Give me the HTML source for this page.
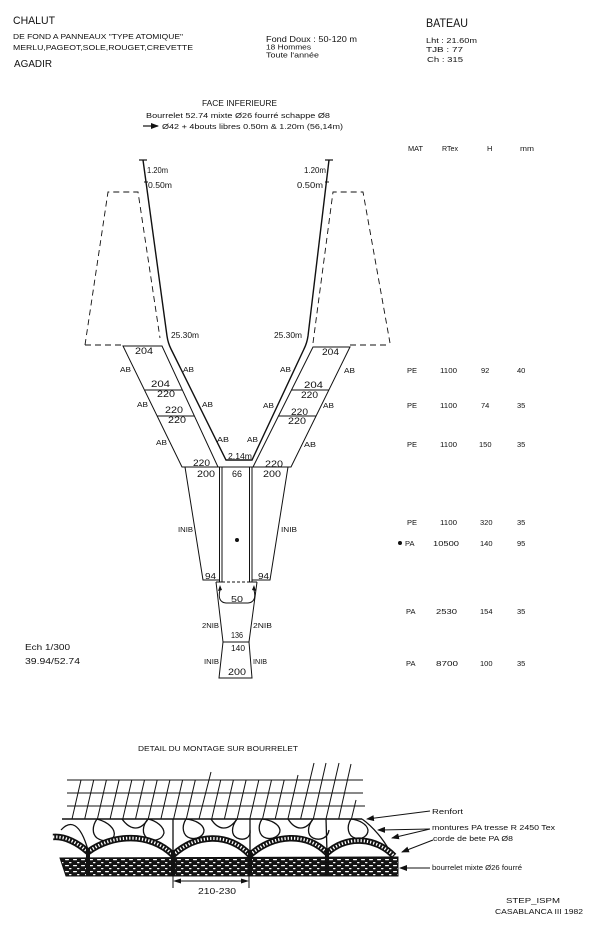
<!DOCTYPE html>
<html><head><meta charset="utf-8"><style>
html,body{margin:0;padding:0;background:#fff;}
svg{display:block;}
text{font-family:"Liberation Sans",sans-serif;fill:#111;}
</style></head><body>
<svg width="600" height="939" viewBox="0 0 600 939" xmlns="http://www.w3.org/2000/svg">
<defs>
<marker id="ah" markerWidth="8" markerHeight="6" refX="7" refY="3" orient="auto" markerUnits="userSpaceOnUse">
<path d="M0,0 L8,3 L0,6 Z" fill="#111"/></marker>
<pattern id="bour" width="8" height="6" patternUnits="userSpaceOnUse">
<rect width="8" height="6" fill="#141414"/><rect x="1" y="1" width="4" height="1.2" rx="0.6" fill="#fff"/><rect x="5" y="4" width="2.5" height="1.2" rx="0.6" fill="#fff"/></pattern>
</defs>

<!-- Header -->
<text x="13" y="24" font-size="11" textLength="42" lengthAdjust="spacingAndGlyphs">CHALUT</text>
<text x="13" y="39" font-size="7.5" textLength="170" lengthAdjust="spacingAndGlyphs">DE FOND A PANNEAUX "TYPE ATOMIQUE"</text>
<text x="13" y="50" font-size="7.5" textLength="180" lengthAdjust="spacingAndGlyphs">MERLU,PAGEOT,SOLE,ROUGET,CREVETTE</text>
<text x="14" y="67" font-size="10.5" textLength="38" lengthAdjust="spacingAndGlyphs">AGADIR</text>
<text x="266" y="42" font-size="8.5" textLength="91" lengthAdjust="spacingAndGlyphs">Fond Doux : 50-120 m</text>
<text x="266" y="49.5" font-size="7.5" textLength="45" lengthAdjust="spacingAndGlyphs">18 Hommes</text>
<text x="266" y="57.5" font-size="7.5" textLength="53" lengthAdjust="spacingAndGlyphs">Toute l'année</text>
<text x="426" y="27" font-size="11.5" textLength="42" lengthAdjust="spacingAndGlyphs">BATEAU</text>
<text x="426" y="43" font-size="7.5" textLength="51" lengthAdjust="spacingAndGlyphs">Lht : 21.60m</text>
<text x="426" y="52" font-size="7.5" textLength="37" lengthAdjust="spacingAndGlyphs">TJB : 77</text>
<text x="427" y="62" font-size="7.5" textLength="36" lengthAdjust="spacingAndGlyphs">Ch : 315</text>

<text x="202" y="106" font-size="8" textLength="75" lengthAdjust="spacingAndGlyphs">FACE INFERIEURE</text>
<text x="146" y="118" font-size="7.5" textLength="184" lengthAdjust="spacingAndGlyphs">Bourrelet 52.74 mixte Ø26 fourré schappe Ø8</text>
<line x1="143" y1="126" x2="158" y2="126" stroke="#111" stroke-width="1.2" marker-end="url(#ah)"/>
<text x="162" y="129" font-size="7.5" textLength="181" lengthAdjust="spacingAndGlyphs">Ø42 + 4bouts libres 0.50m &amp; 1.20m (56,14m)</text>

<!-- Table -->
<g font-size="7.5">
<text x="408" y="151" textLength="15" lengthAdjust="spacingAndGlyphs">MAT</text>
<text x="442" y="151" textLength="16" lengthAdjust="spacingAndGlyphs">RTex</text>
<text x="487" y="151">H</text>
<text x="520" y="151" textLength="14" lengthAdjust="spacingAndGlyphs">mm</text>

<text x="407" y="373">PE</text><text x="440" y="373" textLength="17" lengthAdjust="spacingAndGlyphs">1100</text><text x="481" y="373">92</text><text x="517" y="373">40</text>
<text x="407" y="408">PE</text><text x="440" y="408" textLength="17" lengthAdjust="spacingAndGlyphs">1100</text><text x="481" y="408">74</text><text x="517" y="408">35</text>
<text x="407" y="447">PE</text><text x="440" y="447" textLength="17" lengthAdjust="spacingAndGlyphs">1100</text><text x="479" y="447">150</text><text x="517" y="447">35</text>
<text x="407" y="525">PE</text><text x="440" y="525" textLength="17" lengthAdjust="spacingAndGlyphs">1100</text><text x="480" y="525">320</text><text x="517" y="525">35</text>
<circle cx="400" cy="543" r="2" fill="#111"/>
<text x="405" y="546">PA</text><text x="433" y="546" textLength="26" lengthAdjust="spacingAndGlyphs">10500</text><text x="480" y="546">140</text><text x="517" y="546">95</text>
<text x="406" y="614">PA</text><text x="436" y="614" textLength="21" lengthAdjust="spacingAndGlyphs">2530</text><text x="480" y="614">154</text><text x="517" y="614">35</text>
<text x="406" y="666">PA</text><text x="436" y="666" textLength="22" lengthAdjust="spacingAndGlyphs">8700</text><text x="480" y="666">100</text><text x="517" y="666">35</text>
</g>

<!-- Dashed trapezoids -->
<g fill="none" stroke="#111" stroke-width="0.9" stroke-dasharray="6 4">
<path d="M85,345 L108,192 L138,192 L160,338"/>
<line x1="85" y1="345" x2="123" y2="345"/>
<path d="M313,343 L333,192 L363,192 L390,343"/>
<line x1="350" y1="345" x2="390" y2="345"/>
</g>

<!-- Headline -->
<g fill="none" stroke="#111">
<path d="M143,160 L167,336 Q168,343 171,349 L226,460 L252,460 L304,349 Q307,343 308,336 L329,160" stroke-width="1.4"/>
<line x1="139" y1="160" x2="147" y2="160" stroke-width="1.2"/>
<line x1="325" y1="160" x2="333" y2="160" stroke-width="1.2"/>
<line x1="144" y1="182" x2="148" y2="182" stroke-width="1"/>
<line x1="325" y1="182" x2="329" y2="182" stroke-width="1"/>
</g>
<g font-size="8">
<text x="147" y="173" textLength="21" lengthAdjust="spacingAndGlyphs">1.20m</text>
<text x="148" y="188" textLength="24" lengthAdjust="spacingAndGlyphs">0.50m</text>
<text x="304" y="173" textLength="22" lengthAdjust="spacingAndGlyphs">1.20m</text>
<text x="297" y="188" textLength="26" lengthAdjust="spacingAndGlyphs">0.50m</text>
<text x="171" y="338" textLength="28" lengthAdjust="spacingAndGlyphs">25.30m</text>
<text x="274" y="338" textLength="28" lengthAdjust="spacingAndGlyphs">25.30m</text>
</g>

<!-- Wings -->
<g fill="none" stroke="#111" stroke-width="1">
<path d="M123,346 L162,346 L218,467 L182,467 Z"/>
<line x1="145" y1="390" x2="182" y2="390"/>
<line x1="157" y1="416" x2="194" y2="416"/>
<path d="M313,347 L350,347 L291,467 L253,467 Z"/>
<line x1="291" y1="390" x2="329" y2="390"/>
<line x1="278" y1="416" x2="316" y2="416"/>
<!-- body -->
<line x1="182" y1="467" x2="291" y2="467"/>
<path d="M185,467 L203,580 L220,580"/>
<path d="M288,467 L270,580 L252,580"/>
<line x1="219.5" y1="467" x2="219.5" y2="582"/>
<line x1="222" y1="467" x2="222" y2="582"/>
<line x1="249.5" y1="467" x2="249.5" y2="582"/>
<line x1="252" y1="467" x2="252" y2="582"/>
<line x1="216" y1="582" x2="222" y2="582"/>
<line x1="250" y1="582" x2="257" y2="582"/>
<line x1="222" y1="582" x2="250" y2="582" stroke-dasharray="3 2"/>
<!-- lower -->
<path d="M216,582 L223,642 L249,642 L257,582"/>
<path d="M220,590 Q217,602 226,603 L248,603 Q257,602 254,590"/>
<path d="M223,642 L219,678 L252,678 L249,642"/>
</g>
<path d="M220,585 L218,591 L222,590 Z" fill="#111"/>
<path d="M254,585 L252,590 L256,591 Z" fill="#111"/>
<circle cx="237" cy="540" r="2" fill="#111"/>

<g font-size="9.5">
<text x="135" y="354" textLength="18" lengthAdjust="spacingAndGlyphs">204</text>
<text x="151" y="387" textLength="19" lengthAdjust="spacingAndGlyphs">204</text>
<text x="157" y="397" textLength="18" lengthAdjust="spacingAndGlyphs">220</text>
<text x="165" y="413" textLength="18" lengthAdjust="spacingAndGlyphs">220</text>
<text x="168" y="423" textLength="18" lengthAdjust="spacingAndGlyphs">220</text>
<text x="193" y="466" textLength="17" lengthAdjust="spacingAndGlyphs">220</text>
<text x="197" y="477" textLength="18" lengthAdjust="spacingAndGlyphs">200</text>
<text x="232" y="477" textLength="10" lengthAdjust="spacingAndGlyphs">66</text>
<text x="263" y="477" textLength="18" lengthAdjust="spacingAndGlyphs">200</text>
<text x="265" y="467" textLength="18" lengthAdjust="spacingAndGlyphs">220</text>
<text x="291" y="415" textLength="17" lengthAdjust="spacingAndGlyphs">220</text>
<text x="288" y="424" textLength="18" lengthAdjust="spacingAndGlyphs">220</text>
<text x="304" y="388" textLength="19" lengthAdjust="spacingAndGlyphs">204</text>
<text x="301" y="398" textLength="17" lengthAdjust="spacingAndGlyphs">220</text>
<text x="322" y="355" textLength="17" lengthAdjust="spacingAndGlyphs">204</text>
<text x="228" y="459" font-size="8.5" textLength="24" lengthAdjust="spacingAndGlyphs">2.14m</text>
<text x="205" y="579" font-size="8.5" textLength="11" lengthAdjust="spacingAndGlyphs">94</text>
<text x="258" y="579" font-size="8.5" textLength="11" lengthAdjust="spacingAndGlyphs">94</text>
<text x="231" y="602" font-size="8.5" textLength="12" lengthAdjust="spacingAndGlyphs">50</text>
<text x="231" y="638" font-size="8.5" textLength="12" lengthAdjust="spacingAndGlyphs">136</text>
<text x="231" y="651" font-size="8.5" textLength="14" lengthAdjust="spacingAndGlyphs">140</text>
<text x="228" y="675" textLength="18" lengthAdjust="spacingAndGlyphs">200</text>
</g>
<g font-size="7.5">
<text x="120" y="372" textLength="11" lengthAdjust="spacingAndGlyphs">AB</text>
<text x="183" y="372" textLength="11" lengthAdjust="spacingAndGlyphs">AB</text>
<text x="137" y="407" textLength="11" lengthAdjust="spacingAndGlyphs">AB</text>
<text x="202" y="407" textLength="11" lengthAdjust="spacingAndGlyphs">AB</text>
<text x="156" y="445" textLength="11" lengthAdjust="spacingAndGlyphs">AB</text>
<text x="217" y="442" textLength="12" lengthAdjust="spacingAndGlyphs">AB</text>
<text x="247" y="442" textLength="11" lengthAdjust="spacingAndGlyphs">AB</text>
<text x="304" y="447" textLength="12" lengthAdjust="spacingAndGlyphs">AB</text>
<text x="263" y="408" textLength="11" lengthAdjust="spacingAndGlyphs">AB</text>
<text x="323" y="408" textLength="11" lengthAdjust="spacingAndGlyphs">AB</text>
<text x="280" y="372" textLength="11" lengthAdjust="spacingAndGlyphs">AB</text>
<text x="344" y="373" textLength="11" lengthAdjust="spacingAndGlyphs">AB</text>
<text x="178" y="532" textLength="15" lengthAdjust="spacingAndGlyphs">INIB</text>
<text x="281" y="532" textLength="16" lengthAdjust="spacingAndGlyphs">INIB</text>
<text x="202" y="628" textLength="17" lengthAdjust="spacingAndGlyphs">2NIB</text>
<text x="253" y="628" textLength="19" lengthAdjust="spacingAndGlyphs">2NIB</text>
<text x="204" y="664" textLength="15" lengthAdjust="spacingAndGlyphs">INIB</text>
<text x="253" y="664" textLength="14" lengthAdjust="spacingAndGlyphs">INIB</text>
</g>

<text x="25" y="650" font-size="8" textLength="45" lengthAdjust="spacingAndGlyphs">Ech 1/300</text>
<text x="25" y="664" font-size="8" textLength="55" lengthAdjust="spacingAndGlyphs">39.94/52.74</text>

<!-- Detail -->
<text x="138" y="751" font-size="7.5" textLength="160" lengthAdjust="spacingAndGlyphs">DETAIL DU MONTAGE SUR BOURRELET</text>

<g stroke="#111" stroke-width="1" fill="none">
<line x1="67" y1="780" x2="363" y2="780"/>
<line x1="67" y1="793" x2="363" y2="793"/>
<line x1="67" y1="806" x2="365" y2="806"/>
<line x1="62" y1="819" x2="362" y2="819" stroke-width="1.5"/>
<line x1="72" y1="819" x2="81" y2="780"/>
<line x1="84.7" y1="819" x2="93.7" y2="780"/>
<line x1="97.4" y1="819" x2="106.4" y2="780"/>
<line x1="110.1" y1="819" x2="119.1" y2="780"/>
<line x1="122.8" y1="819" x2="131.8" y2="780"/>
<line x1="135.5" y1="819" x2="144.5" y2="780"/>
<line x1="148.2" y1="819" x2="157.2" y2="780"/>
<line x1="160.9" y1="819" x2="169.9" y2="780"/>
<line x1="173.6" y1="819" x2="182.6" y2="780"/>
<line x1="186.3" y1="819" x2="195.3" y2="780"/>
<line x1="199" y1="819" x2="211" y2="772"/>
<line x1="211.7" y1="819" x2="220.7" y2="780"/>
<line x1="224.4" y1="819" x2="233.4" y2="780"/>
<line x1="237.1" y1="819" x2="246.1" y2="780"/>
<line x1="249.8" y1="819" x2="258.8" y2="780"/>
<line x1="262.5" y1="819" x2="271.5" y2="780"/>
<line x1="275.2" y1="819" x2="284.2" y2="780"/>
<line x1="287.9" y1="819" x2="298" y2="775"/>
<line x1="300.6" y1="819" x2="314" y2="763"/>
<line x1="313.3" y1="819" x2="326" y2="763"/>
<line x1="326" y1="819" x2="339" y2="763"/>
<line x1="338.7" y1="819" x2="351" y2="764"/>
<line x1="351.4" y1="819" x2="356" y2="800"/>
</g>

<!-- mountures -->
<g stroke="#111" stroke-width="1.3" fill="none">
<path d="M61,830 C70,820 80,822 88,850"/>
<path d="M97,819 C92,826 92,834 97,838 C103,842 111,842 114,836 C116,829 108,822 97,819"/>
<path d="M122,819 C130,830 140,832 148,819"/>
<path d="M148,819 C142,826 142,834 147,838 C154,842 162,840 164,833 C164,827 157,821 148,819"/>
<path d="M173,819 L173,852"/>
<path d="M186,819 C181,827 183,836 190,838 C197,840 204,836 204,830 C203,824 195,820 186,819"/>
<path d="M211,819 C218,830 228,832 237,819"/>
<path d="M237,819 C231,827 231,835 237,838 C244,841 251,838 250,830"/>
<path d="M250,819 L250,852"/>
<path d="M262,819 C257,827 259,836 266,838 C273,840 280,836 280,830 C279,824 271,820 262,819"/>
<path d="M288,819 C295,830 305,832 313,819"/>
<path d="M313,819 C307,827 307,835 313,838 C320,841 328,838 329,830"/>
<path d="M326,819 L327,852"/>
<path d="M351,819 C346,827 348,836 355,838 C362,840 368,836 368,830 C367,824 359,820 351,819"/>
<path d="M362,819 C372,826 385,840 392,856"/>
</g>

<!-- rope (corde de bete) -->
<path d="M53,837 C65,836 78,843 88,852 C112,834 150,832 173,855 C196,834 228,832 250,855 C274,834 306,832 327,853 C346,836 374,836 394,856" fill="none" stroke="#111" stroke-width="6.5"/>
<path d="M53,837 C65,836 78,843 88,852 C112,834 150,832 173,855 C196,834 228,832 250,855 C274,834 306,832 327,853 C346,836 374,836 394,856" fill="none" stroke="#fff" stroke-width="3" stroke-dasharray="1.3 1.9"/>

<!-- bourrelet -->
<path d="M60,858 L398,857 L398,876 L66,876 Z" fill="url(#bour)" stroke="#111" stroke-width="1"/>
<rect x="86" y="848" width="4" height="28" fill="#111"/>
<rect x="171" y="850" width="4" height="26" fill="#111"/>
<rect x="248" y="850" width="4" height="26" fill="#111"/>
<rect x="325" y="849" width="4" height="27" fill="#111"/>

<!-- dimension -->
<g stroke="#111" stroke-width="1">
<line x1="173" y1="875" x2="173" y2="888"/>
<line x1="249" y1="875" x2="249" y2="888"/>
<line x1="176" y1="881" x2="246" y2="881"/>
</g>
<path d="M173,881 L181,878.5 L181,883.5 Z" fill="#111"/>
<path d="M249,881 L241,878.5 L241,883.5 Z" fill="#111"/>
<text x="198" y="894" font-size="8" textLength="38" lengthAdjust="spacingAndGlyphs">210-230</text>

<!-- leaders -->
<g stroke="#111" stroke-width="1" fill="none">
<line x1="430" y1="811" x2="367" y2="819" marker-end="url(#ah)"/>
<line x1="430" y1="829" x2="378" y2="830" marker-end="url(#ah)"/>
<line x1="430" y1="829" x2="392" y2="838" marker-end="url(#ah)"/>
<line x1="433" y1="840" x2="402" y2="852" marker-end="url(#ah)"/>
<line x1="430" y1="868" x2="400" y2="868" marker-end="url(#ah)"/>
</g>
<g font-size="7.5">
<text x="432" y="814" textLength="31" lengthAdjust="spacingAndGlyphs">Renfort</text>
<text x="432" y="830" textLength="123" lengthAdjust="spacingAndGlyphs">montures PA tresse R 2450 Tex</text>
<text x="433" y="841" textLength="80" lengthAdjust="spacingAndGlyphs">corde de bete PA Ø8</text>
<text x="432" y="870" textLength="90" lengthAdjust="spacingAndGlyphs">bourrelet mixte Ø26 fourré</text>
<text x="506" y="903" textLength="54" lengthAdjust="spacingAndGlyphs">STEP_ISPM</text>
<text x="495" y="914" textLength="88" lengthAdjust="spacingAndGlyphs">CASABLANCA III 1982</text>
</g>
</svg>
</body></html>
